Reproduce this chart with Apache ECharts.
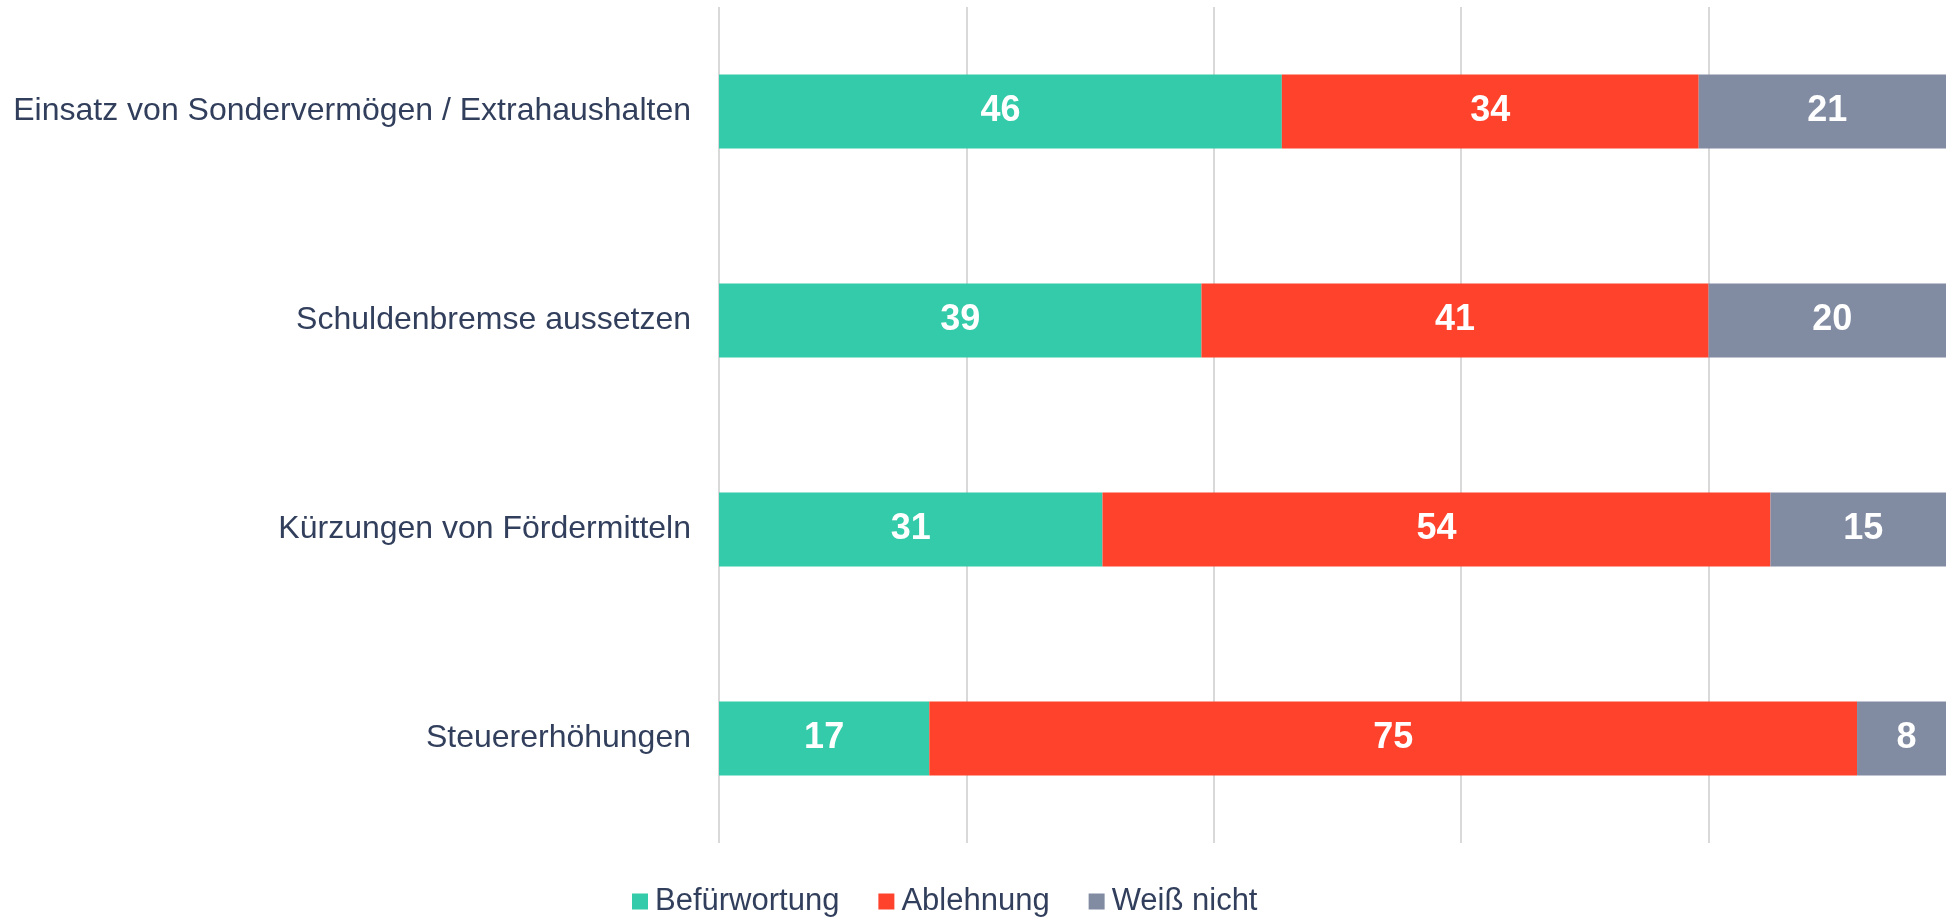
<!DOCTYPE html>
<html>
<head>
<meta charset="utf-8">
<script src="https://cdn.jsdelivr.net/npm/echarts@6/dist/echarts.min.js"></script>
<style>
  html, body { margin: 0; padding: 0; background: #fff; overflow: hidden; }
  #chart { width: 1946px; height: 919px; }
</style>
</head>
<body>
<div id="chart"></div>
<script>
  // Kategorien von oben nach unten
  var categories = [
    'Einsatz von Sondervermögen / Extrahaushalten',
    'Schuldenbremse aussetzen',
    'Kürzungen von Fördermitteln',
    'Steuererhöhungen'
  ];
  var befuerwortung = [45.5, 39, 31, 17];
  var ablehnung = [33.7, 41, 54, 75];
  var weissNicht = [20.8, 20, 15, 8];

  var seriesNames = ['Befürwortung', 'Ablehnung', 'Weiß nicht'];
  var colors = ['#33cba9', '#ff422c', '#818ca3'];

  var fontFam = '"Liberation Sans", Arial, sans-serif';
  var textColor = '#323f5c';

  function makeSeries(name, data, color) {
    return {
      name: name,
      type: 'bar',
      stack: 'total',
      data: data,
      barWidth: 74,
      clip: false,
      itemStyle: { color: color },
      label: {
        show: true,
        position: 'inside',
        color: '#fff',
        fontFamily: fontFam,
        fontWeight: 'bold',
        fontSize: 36,
        formatter: function (p) { return Math.round(p.value); }
      }
    };
  }

  var chart = echarts.init(document.getElementById('chart'));
  chart.setOption({
    animation: false,
    backgroundColor: '#fff',
    color: colors,
    // Plotfläche reicht etwas über den rechten Rand hinaus (wie im Original)
    grid: {
      left: 719,
      width: 1237,
      top: 7,
      bottom: 76,
      containLabel: false,
      outerBoundsMode: 'none'
    },
    legend: {
      data: seriesNames,
      left: 627,
      top: 881,
      icon: 'rect',
      itemWidth: 16,
      itemHeight: 16,
      itemGap: 39,
      textStyle: {
        color: textColor,
        fontFamily: fontFam,
        fontSize: 31,
        padding: [0, 0, 0, 2]
      }
    },
    xAxis: {
      type: 'value',
      min: 0,
      max: 100,
      interval: 20,
      axisLabel: { show: false },
      axisLine: { show: false },
      axisTick: { show: false },
      splitLine: { show: true, lineStyle: { color: '#d9d9d9', width: 2 } }
    },
    yAxis: {
      type: 'category',
      data: categories,
      inverse: true,
      axisLine: { show: false },
      axisTick: { show: false },
      axisLabel: {
        color: textColor,
        fontFamily: fontFam,
        fontSize: 32,
        margin: 28
      }
    },
    series: [
      makeSeries(seriesNames[0], befuerwortung, colors[0]),
      makeSeries(seriesNames[1], ablehnung, colors[1]),
      makeSeries(seriesNames[2], weissNicht, colors[2])
    ]
  });
</script>
</body>
</html>
